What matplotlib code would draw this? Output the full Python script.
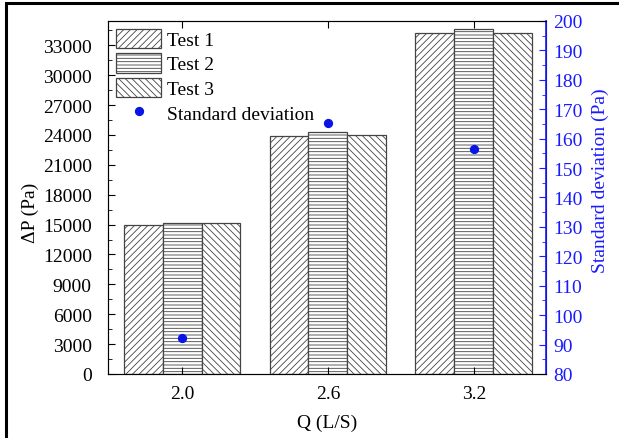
import matplotlib
matplotlib.use('Agg')
import matplotlib.pyplot as plt
import numpy as np
from matplotlib.ticker import MultipleLocator
from matplotlib.patches import Rectangle

plt.rcParams['font.family'] = 'Liberation Serif'
plt.rcParams['hatch.color'] = '#555555'
plt.rcParams['hatch.linewidth'] = 0.6

# data
flow = [2.0, 2.6, 3.2]
test1 = [14970, 23940, 34220]
test2 = [15200, 24340, 34630]
test3 = [15140, 23960, 34220]
std_dev = [92.1, 165.4, 156.4]

fig = plt.figure(figsize=(6.19, 4.39), dpi=100)
ax = fig.add_axes([0.1752, 0.1458, 0.7068, 0.8042])

w = 0.16
x = np.array(flow)
b1 = ax.bar(x - w, test1, w, color='white', edgecolor='#444444', hatch='/////', linewidth=0.9, label='Test 1')
b2 = ax.bar(x, test2, w, color='white', edgecolor='#444444', hatch='-----', linewidth=0.9, label='Test 2')
b3 = ax.bar(x + w, test3, w, color='white', edgecolor='#444444', hatch='\\\\\\\\\\', linewidth=0.9, label='Test 3')

ax.set_xlim(1.697, 3.497)
ax.set_ylim(0, 35450)
ax.set_xticks(flow)
ax.set_xticklabels(['2.0', '2.6', '3.2'])
ax.yaxis.set_minor_locator(MultipleLocator(1500))
ax.set_yticks(np.arange(0, 33001, 3000))
ax.tick_params(axis='both', which='both', direction='in', labelsize=14)
ax.tick_params(axis='x', top=True, length=5, pad=8)
ax.tick_params(axis='y', which='major', length=5, pad=12)
ax.tick_params(axis='y', which='minor', length=3)
ax.set_xlabel('Q (L/S)', fontsize=14)
ax.xaxis.set_label_coords(0.5, -0.113)
ax.set_ylabel('ΔP (Pa)', fontsize=14)
ax.yaxis.set_label_coords(-0.158, 0.459)
for s in ['left', 'bottom', 'top']:
    ax.spines[s].set_color('#444444')

ax2 = ax.twinx()
sc = ax2.scatter(flow, std_dev, color='#0a14e6', s=32, zorder=5, label='Standard deviation')
ax2.set_ylim(80, 200)
ax2.yaxis.set_major_locator(MultipleLocator(10))
ax2.yaxis.set_minor_locator(MultipleLocator(5))
ax2.tick_params(axis='y', which='both', direction='in', colors='#1a1aff', labelsize=14)
ax2.tick_params(axis='y', which='major', length=5, pad=5)
ax2.tick_params(axis='y', which='minor', length=3)
ax2.spines['right'].set_color('#1a1aff')
ax2.spines['right'].set_linewidth(1.2)
ax2.set_ylabel('Standard deviation (Pa)', color='#1a1aff', fontsize=14)
ax2.yaxis.set_label_coords(1.105, 0.55)

ax2.legend([b1, b2, b3, sc], ['Test 1', 'Test 2', 'Test 3', 'Standard deviation'],
           loc='upper left', frameon=False, fontsize=14, handlelength=2.3, handleheight=1.15,
           handletextpad=0.3, labelspacing=0.22, borderaxespad=0.2, borderpad=0.2)

# frame around the figure
fig.patches.append(Rectangle((0.009, -0.1), 1.1, 1.09, transform=fig.transFigure,
                             fill=False, edgecolor='black', linewidth=2.2))

fig.savefig('out.png', dpi=100)
